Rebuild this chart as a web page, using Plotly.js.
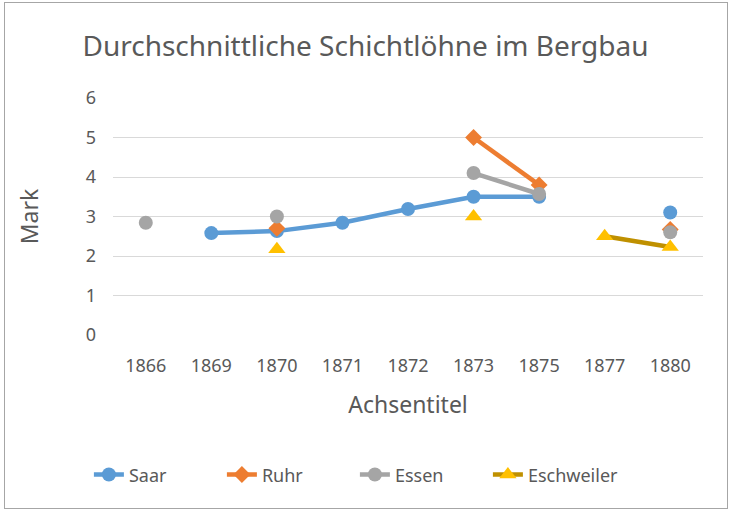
<!DOCTYPE html>
<html><head><meta charset="utf-8">
<script src="https://cdn.plot.ly/plotly-3.0.1.min.js"></script>
<style>body{margin:0;background:#fff}#c{width:731px;height:512px;position:relative}#b{position:absolute;left:4px;top:2px;width:724px;height:507px;border:1px solid #a6a6a6;pointer-events:none;box-sizing:border-box}</style>
</head><body><div id="c"></div><div id="b"></div>
<script>
const years = ["1866","1869","1870","1871","1872","1873","1875","1877","1880"];
const saar = [null, 2.58, 2.63, 2.84, 3.19, 3.5, 3.5, null, 3.1];
const ruhr = [null, null, 2.7, null, null, 5.0, 3.8, null, 2.67];
const essen = [2.84, null, 3.0, null, null, 4.1, 3.57, null, 2.6];
const eschweiler = [null, null, 2.17, null, null, 3.0, null, 2.5, 2.23];

const f = "Noto Sans, Open Sans, sans-serif";
const mk = (name, y, lc, mc, sym, sz) => ({
  type:'scatter', mode:'lines+markers', name, x:years, y,
  line:{color:lc, width:4.5}, marker:{color:mc, symbol:sym, size:sz},
  connectgaps:false
});
const data = [
  mk('Saar', saar, '#5b9bd5', '#5b9bd5', 'circle', 14),
  mk('Ruhr', ruhr, '#ed7d31', '#ed7d31', 'diamond', 13),
  mk('Essen', essen, '#a5a5a5', '#a5a5a5', 'circle', 14),
  mk('Eschweiler', eschweiler, '#bf9000', '#ffc000', 'triangle-up', 15)
];
const layout = {
  width:731, height:512,
  margin:{l:113, r:28, t:98, b:177},
  paper_bgcolor:'#fff', plot_bgcolor:'#fff',
  font:{family:f, color:'#595959', size:18},
  title:{text:'Durchschnittliche Schichtlöhne im Bergbau', font:{size:28, color:'#595959', family:f}, x:0.5, xanchor:'center', y:0.91, yanchor:'middle'},
  xaxis:{type:'category', range:[-0.5, 8.5], showgrid:false, zeroline:false, showline:false, ticks:'', tickfont:{size:18}, ticklabelstandoff:18,
    title:{text:'Achsentitel', font:{size:23}, standoff:20}},
  yaxis:{range:[0,6], dtick:1, showgrid:true, gridcolor:'#d9d9d9', gridwidth:1, zeroline:false, showline:false, tickfont:{size:18}, ticklabelstandoff:16,
    title:{text:'Mark', font:{size:23}, standoff:40}},
  showlegend:true,
  legend:{orientation:'h', x:0.41, xanchor:'center', y:-0.59, yanchor:'middle', font:{size:18}, entrywidth:88, entrywidthmode:'pixels', traceorder:'normal'}
};
Plotly.newPlot('c', data, layout, {displayModeBar:false, staticPlot:true});
</script></body></html>
